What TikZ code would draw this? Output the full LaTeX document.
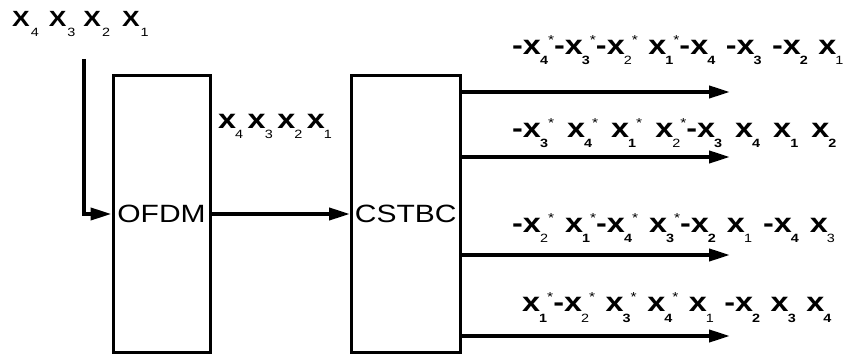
\documentclass[tikz,border=0pt]{standalone}
\usepackage{fontspec}
\setmainfont[FakeStretch=1.2]{Liberation Sans}
\usetikzlibrary{arrows.meta}

\newcommand{\xB}[1]{\textbf{x}\kern-1pt\raisebox{-10pt}{\fontsize{12}{12}\selectfont\bfseries #1}}
\newcommand{\xR}[1]{\textbf{x}\kern-1pt\raisebox{-10pt}{\fontsize{12}{12}\selectfont\mdseries #1}}
\newcommand{\XR}[1]{\textbf{X}\kern1pt\raisebox{-10pt}{\fontsize{12}{12}\selectfont\mdseries #1}}
\newcommand{\conj}{\raisebox{10pt}{\fontsize{13}{13}\selectfont\mdseries *}}
\newcommand{\gap}[1]{\spaceskip=#1pt\relax}

\tikzset{
    block/.style={draw,line width=3pt,inner sep=0pt,minimum height=277pt,font=\fontsize{25}{25}\selectfont},
    pfeil/.style={line width=4pt,-{Triangle[length=21pt,width=12pt]}},
    seq/.style={anchor=base west,inner sep=0pt,font=\fontsize{27}{27}\selectfont\bfseries}
}

\begin{document}
\begin{tikzpicture}[x=1pt,y=-1pt]
    \useasboundingbox (0,0) rectangle (849,358);

    % Bloecke
    \node[block,minimum width=97pt] (ofdm) at (161.5,214) {OFDM};
    \node[block,minimum width=108.5pt] (cstbc) at (405.75,214) {CSTBC};

    % Eingang und Verbindung
    \coordinate (ein) at (84,59);
    \draw[pfeil] (ein) |- (ofdm.west);
    \draw[pfeil] (ofdm.east) -- (cstbc.west);

    % Ausgaenge
    \foreach \y [count=\i] in {92,157,255,336} {
        \coordinate (aus\i) at (730,\y);
        \draw[pfeil] (cstbc.east |- aus\i) -- (aus\i);
    }

    % Symbolfolgen
    \node[seq,font=\fontsize{22}{22}\selectfont\bfseries] (eingabe) at (12,27) {\XR4\hspace{10pt}\XR3\hspace{8pt}\XR2\hspace{12pt}\XR1};
    \node[seq] (mitte) at (218,129) {\xR4\,\xR3\,\xR2\,\xR1};
    \node[seq] (zeile1) at (512,55) {\gap{10.5}-\xB4\conj -\xB3\conj -\xR2\conj{} \xB1\conj -\xB4 -\xB3 -\xB2 \xR1};
    \node[seq] (zeile2) at (512,138) {\gap{13}-\xB3\conj{} \xB4\conj{} \xB1\conj{} \xR2\conj -\xB3 \xB4 \xB1 \xB2};
    \node[seq] (zeile3) at (512,233) {\gap{11}-\xR2\conj{} \xB1\conj -\xB4\conj{} \xB3\conj -\xB2 \xR1 -\xB4 \xR3};
    \node[seq] (zeile4) at (522,312) {\gap{10.5}\xB1\conj -\xR2\conj{} \xB3\conj{} \xB4\conj{} \xR1 -\xB2 \xB3 \xB4};
\end{tikzpicture}
\end{document}
